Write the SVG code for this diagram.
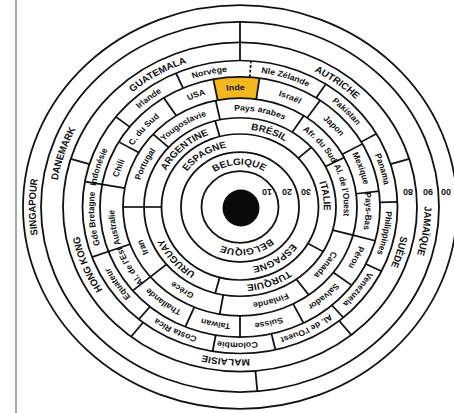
<svg xmlns="http://www.w3.org/2000/svg" width="454" height="413" viewBox="0 0 454 413">
<style>
.ring{fill:none;stroke:#111;stroke-width:1.8}
.dv line{stroke:#111;stroke-width:1.8}
.lbl{font-family:"Liberation Sans",Arial,sans-serif;font-weight:bold;font-size:8.8px;fill:#111;text-anchor:middle}
.cap{font-size:10px}
.num{font-family:"Liberation Sans",Arial,sans-serif;font-weight:bold;font-size:9px;fill:#111;text-anchor:middle}
</style>
<rect width="454" height="413" fill="#fff"/>
<line x1="16" y1="0" x2="16" y2="413" stroke="#8a8a8a" stroke-width="1.5"/>
<g id="wheel" transform="translate(240,207) scale(1,0.93)">
<defs>
<path id="p2" d="M45.3 0A45.3 45.3 0 1 1 -45.3 0A45.3 45.3 0 1 1 45.3 0A45.3 45.3 0 1 1 -45.3 0A45.3 45.3 0 1 1 45.3 0"/>
<path id="p3" d="M65.2 0A65.2 65.2 0 1 1 -65.2 0A65.2 65.2 0 1 1 65.2 0A65.2 65.2 0 1 1 -65.2 0A65.2 65.2 0 1 1 65.2 0"/>
<path id="p4" d="M83.7 0A83.7 83.7 0 1 1 -83.7 0A83.7 83.7 0 1 1 83.7 0A83.7 83.7 0 1 1 -83.7 0A83.7 83.7 0 1 1 83.7 0"/>
<path id="p5" d="M103.7 0A103.7 103.7 0 1 1 -103.7 0A103.7 103.7 0 1 1 103.7 0A103.7 103.7 0 1 1 -103.7 0A103.7 103.7 0 1 1 103.7 0"/>
<path id="p6" d="M125.7 0A125.7 125.7 0 1 1 -125.7 0A125.7 125.7 0 1 1 125.7 0A125.7 125.7 0 1 1 -125.7 0A125.7 125.7 0 1 1 125.7 0"/>
<path id="p7" d="M145.9 0A145.9 145.9 0 1 1 -145.9 0A145.9 145.9 0 1 1 145.9 0A145.9 145.9 0 1 1 -145.9 0A145.9 145.9 0 1 1 145.9 0"/>
<path id="p8" d="M163.7 0A163.7 163.7 0 1 1 -163.7 0A163.7 163.7 0 1 1 163.7 0A163.7 163.7 0 1 1 -163.7 0A163.7 163.7 0 1 1 163.7 0"/>
<path id="p9" d="M184.4 0A184.4 184.4 0 1 1 -184.4 0A184.4 184.4 0 1 1 184.4 0A184.4 184.4 0 1 1 -184.4 0A184.4 184.4 0 1 1 184.4 0"/>
<path id="p10" d="M204.4 0A204.4 204.4 0 1 1 -204.4 0A204.4 204.4 0 1 1 204.4 0A204.4 204.4 0 1 1 -204.4 0A204.4 204.4 0 1 1 204.4 0"/>
</defs>
<path id="inde-cell" d="M-26.71 -137.42A140 140 0 0 1 19.49 -138.64L16.29 -115.87A117 117 0 0 0 -22.32 -114.85Z" fill="#f4b81f"/>
<g id="rings">
<circle class="ring" r="38.5"/>
<circle class="ring" r="59"/>
<circle class="ring" r="78.5"/>
<circle class="ring" r="96"/>
<circle class="ring" r="117"/>
<circle class="ring" r="140"/>
<circle class="ring" r="157.5"/>
<circle class="ring" r="177"/>
<circle class="ring" r="199"/>
<circle class="ring" r="217"/>
</g>
<g id="connectors" class="dv">
<line x1="78.5" x2="96" transform="rotate(255)"/>
<line x1="78.5" x2="96" transform="rotate(318)"/>
<line x1="78.5" x2="96" transform="rotate(30)"/>
<line x1="78.5" x2="96" transform="rotate(105)"/>
<line x1="78.5" x2="96" transform="rotate(180)"/>
<line x1="96" x2="117" transform="rotate(222)"/>
<line x1="96" x2="117" transform="rotate(258)"/>
<line x1="96" x2="117" transform="rotate(303)"/>
<line x1="96" x2="117" transform="rotate(333)"/>
<line x1="96" x2="117" transform="rotate(15)"/>
<line x1="96" x2="117" transform="rotate(54)"/>
<line x1="96" x2="117" transform="rotate(100)"/>
<line x1="96" x2="117" transform="rotate(140)"/>
<line x1="96" x2="117" transform="rotate(180)"/>
<line x1="117" x2="140" transform="rotate(190)"/>
<line x1="117" x2="140" transform="rotate(210)"/>
<line x1="117" x2="140" transform="rotate(237)"/>
<line x1="117" x2="140" transform="rotate(259)"/>
<line x1="117" x2="140" transform="rotate(278)"/>
<line x1="117" x2="140" transform="rotate(305)"/>
<line x1="117" x2="140" transform="rotate(331)"/>
<line x1="117" x2="140" transform="rotate(353)"/>
<line x1="117" x2="140" transform="rotate(15)"/>
<line x1="117" x2="140" transform="rotate(37)"/>
<line x1="117" x2="140" transform="rotate(63)"/>
<line x1="117" x2="140" transform="rotate(90)"/>
<line x1="117" x2="140" transform="rotate(113)"/>
<line x1="117" x2="140" transform="rotate(140)"/>
<line x1="117" x2="140" transform="rotate(160)"/>
<line x1="140" x2="157.5" transform="rotate(190)"/>
<line x1="140" x2="157.5" transform="rotate(218)"/>
<line x1="140" x2="157.5" transform="rotate(246)"/>
<line x1="140" x2="157.5" transform="rotate(274)" stroke-dasharray="3 2"/>
<line x1="140" x2="157.5" transform="rotate(303)"/>
<line x1="140" x2="157.5" transform="rotate(330)"/>
<line x1="140" x2="157.5" transform="rotate(358)"/>
<line x1="140" x2="157.5" transform="rotate(26)"/>
<line x1="140" x2="157.5" transform="rotate(49)"/>
<line x1="140" x2="157.5" transform="rotate(77)"/>
<line x1="140" x2="157.5" transform="rotate(100)"/>
<line x1="140" x2="157.5" transform="rotate(130)"/>
<line x1="140" x2="157.5" transform="rotate(160)"/>
<line x1="157.5" x2="177" transform="rotate(197)"/>
<line x1="157.5" x2="177" transform="rotate(270)"/>
<line x1="157.5" x2="177" transform="rotate(343)"/>
<line x1="157.5" x2="177" transform="rotate(51)"/>
<line x1="157.5" x2="177" transform="rotate(128)"/>
<line x1="177" x2="199" transform="rotate(270)"/>
<line x1="177" x2="199" transform="rotate(85)"/>
</g>
<g id="labels" class="lbl">
<text class="cap"><textPath href="#p2" startOffset="37.36%">BELGIQUE</textPath></text>
<text class="cap"><textPath href="#p2" startOffset="61.25%">BELGIQUE</textPath></text>
<text class="cap"><textPath href="#p3" startOffset="32.92%">ESPAGNE</textPath></text>
<text class="cap"><textPath href="#p3" startOffset="58.06%">ESPAGNE</textPath></text>
<text class="cap"><textPath href="#p4" startOffset="31.67%">ARGENTINE</textPath></text>
<text class="cap"><textPath href="#p4" startOffset="40.28%">BRÉSIL</textPath></text>
<text class="cap"><textPath href="#p4" startOffset="48.89%">ITALIE</textPath></text>
<text class="cap"><textPath href="#p4" startOffset="59.72%">TURQUIE</textPath></text>
<text class="cap"><textPath href="#p4" startOffset="69.31%">URUGUAY</textPath></text>
<text><textPath href="#p5" startOffset="28.61%">Portugal</textPath></text>
<text><textPath href="#p5" startOffset="32.92%">Yougoslavie</textPath></text>
<text><textPath href="#p5" startOffset="39.03%">Pays arabes</textPath></text>
<text><textPath href="#p5" startOffset="44.44%">Afr. du Sud</textPath></text>
<text><textPath href="#p5" startOffset="48.61%">Al. de l'Ouest</textPath></text>
<text><textPath href="#p5" startOffset="55%">Canada</textPath></text>
<text><textPath href="#p5" startOffset="60.14%">Finlande</textPath></text>
<text><textPath href="#p5" startOffset="67.08%">Grèce</textPath></text>
<text><textPath href="#p5" startOffset="71.67%">Iran</textPath></text>
<text><textPath href="#p6" startOffset="27.64%">Chili</textPath></text>
<text><textPath href="#p6" startOffset="30.69%">C. du Sud</textPath></text>
<text><textPath href="#p6" startOffset="34.72%">USA</textPath></text>
<text><textPath href="#p6" startOffset="37.22%">Inde</textPath></text>
<text><textPath href="#p6" startOffset="40.69%">Israël</textPath></text>
<text><textPath href="#p6" startOffset="44.03%">Japon</textPath></text>
<text><textPath href="#p6" startOffset="47.36%">Mexique</textPath></text>
<text><textPath href="#p6" startOffset="50.28%">Pays-Bas</textPath></text>
<text><textPath href="#p6" startOffset="53.47%">Pérou</textPath></text>
<text><textPath href="#p6" startOffset="56.81%">Salvador</textPath></text>
<text><textPath href="#p6" startOffset="60.69%">Suisse</textPath></text>
<text><textPath href="#p6" startOffset="64.03%">Taïwan</textPath></text>
<text><textPath href="#p6" startOffset="67.64%">Thaïlande</textPath></text>
<text><textPath href="#p6" startOffset="70.83%">Al. de l'Est</textPath></text>
<text><textPath href="#p6" startOffset="73.61%">Australie</textPath></text>
<text><textPath href="#p7" startOffset="27.36%">Indonésie</textPath></text>
<text><textPath href="#p7" startOffset="32.22%">Irlande</textPath></text>
<text><textPath href="#p7" startOffset="35.83%">Norvège</textPath></text>
<text><textPath href="#p7" startOffset="40%">Nle Zélande</textPath></text>
<text><textPath href="#p7" startOffset="43.89%">Pakistan</textPath></text>
<text><textPath href="#p7" startOffset="47.78%">Panama</textPath></text>
<text><textPath href="#p7" startOffset="51.53%">Philippines</textPath></text>
<text><textPath href="#p7" startOffset="55.14%">Venezuela</textPath></text>
<text><textPath href="#p7" startOffset="58.75%">Al. de l'Ouest</textPath></text>
<text><textPath href="#p7" startOffset="62.64%">Colombie</textPath></text>
<text><textPath href="#p7" startOffset="66.11%">Costa Rica</textPath></text>
<text><textPath href="#p7" startOffset="70.28%">Equateur</textPath></text>
<text><textPath href="#p7" startOffset="74.31%">Gde Bretagne</textPath></text>
<text class="cap"><textPath href="#p8" startOffset="33.33%">GUATEMALA</textPath></text>
<text class="cap"><textPath href="#p8" startOffset="42.5%">AUTRICHE</textPath></text>
<text class="cap"><textPath href="#p8" startOffset="52.36%">SUÈDE</textPath></text>
<text class="cap"><textPath href="#p8" startOffset="63.19%">MALAISIE</textPath></text>
<text class="cap"><textPath href="#p8" startOffset="71.94%">HONG KONG</textPath></text>
<text class="cap"><textPath href="#p9" startOffset="27.5%">DANEMARK</textPath></text>
<text class="cap"><textPath href="#p9" startOffset="51.11%">JAMAÏQUE</textPath></text>
<text class="cap"><textPath href="#p10" startOffset="75%">SINGAPOUR</textPath></text>
</g>
</g>
<circle id="hub" cx="241" cy="208" r="18.5" fill="#0a0a0a"/>
<g id="scale-numbers" class="num">
<text transform="translate(267,192) rotate(180)" dy="0.35em">10</text>
<text transform="translate(287,192) rotate(180)" dy="0.35em">20</text>
<text transform="translate(306,192) rotate(180)" dy="0.35em">30</text>
<text transform="translate(408,192) rotate(180)" dy="0.35em">80</text>
<text transform="translate(428,192) rotate(180)" dy="0.35em">90</text>
<text transform="translate(446,192) rotate(180)" dy="0.35em">00</text>
</g>
</svg>
